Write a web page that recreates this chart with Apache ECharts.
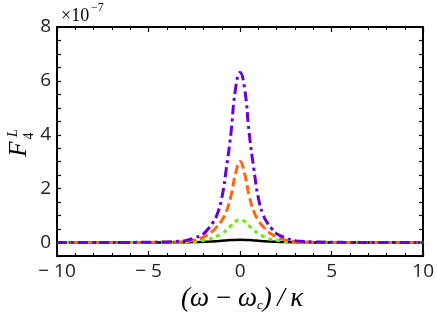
<!DOCTYPE html>
<html>
<head>
<meta charset="utf-8">
<script src="https://cdn.jsdelivr.net/npm/echarts@6/dist/echarts.min.js"></script>
<style>
  html, body { margin: 0; padding: 0; background: #fff; }
  #chart { width: 437px; height: 320px; }
</style>
</head>
<body>
<div id="chart"></div>
<script>
// detuning (omega - omega_c)/kappa
const xs = [-10, -8, -6, -5, -4, -3.5, -3, -2.5, -2, -1.75, -1.5, -1.25, -1, -0.75, -0.5, -0.25, 0,
  0.25, 0.5, 0.75, 1, 1.25, 1.5, 1.75, 2, 2.5, 3, 3.5, 4, 5, 6, 8, 10];

// F_4^L in units of 1e-7
const blackVals = [0, 0.001, 0.002, 0.003, 0.005, 0.007, 0.01, 0.015, 0.025, 0.032, 0.04, 0.052, 0.065, 0.078, 0.09, 0.098, 0.1,
  0.098, 0.09, 0.078, 0.065, 0.052, 0.04, 0.032, 0.025, 0.015, 0.01, 0.007, 0.005, 0.003, 0.002, 0.001, 0];
const greenVals = [0, 0.001, 0.003, 0.005, 0.01, 0.015, 0.02, 0.04, 0.08, 0.11, 0.16, 0.24, 0.33, 0.46, 0.62, 0.78, 0.85,
  0.78, 0.62, 0.46, 0.33, 0.24, 0.16, 0.11, 0.08, 0.04, 0.02, 0.015, 0.01, 0.005, 0.003, 0.001, 0];
const orangeVals = [0, 0.001, 0.003, 0.005, 0.01, 0.02, 0.04, 0.09, 0.2, 0.3, 0.42, 0.6, 0.82, 1.15, 1.72, 2.55, 3.01,
  2.55, 1.72, 1.15, 0.82, 0.6, 0.42, 0.3, 0.2, 0.09, 0.04, 0.02, 0.01, 0.005, 0.003, 0.001, 0];
const purpleVals = [0, 0.002, 0.005, 0.01, 0.02, 0.04, 0.07, 0.17, 0.33, 0.5, 0.72, 1.05, 1.65, 2.75, 4.05, 5.7, 6.31,
  5.7, 4.05, 2.75, 1.65, 1.05, 0.72, 0.5, 0.33, 0.17, 0.07, 0.04, 0.02, 0.01, 0.005, 0.002, 0];

const yLabels = [0, 2, 4, 6, 8];

const chart = echarts.init(document.getElementById('chart'));

const pairs = vals => xs.map((x, i) => [x, vals[i]]);
const minus = v => (v < 0 ? '\u2212 ' + Math.abs(v) : String(v));

const axisBase = {
  axisLine: { onZero: false, lineStyle: { color: '#000', width: 2 } },
  axisTick: { inside: true, length: 5, lineStyle: { color: '#000', width: 1.2 } },
  splitLine: { show: false }
};

function line(vals, color, type, width) {
  return {
    type: 'line',
    data: pairs(vals),
    smooth: true,
    showSymbol: false,
    lineStyle: { color: color, width: width, type: type, cap: 'butt' },
    z: 3
  };
}

chart.setOption({
  animation: false,
  grid: { left: 57, right: 10, top: 27, bottom: 64 },
  xAxis: [
    Object.assign({}, axisBase, {
      type: 'value', min: -10, max: 10, interval: 5,
      minorTick: { show: true, splitNumber: 5, length: 3, lineStyle: { color: '#000', width: 1 } },
      axisLabel: { formatter: minus, color: '#222', fontSize: 19, fontFamily: 'Open Sans', margin: 6 }
    }),
    Object.assign({}, axisBase, {
      type: 'value', min: -10, max: 10, interval: 5, position: 'top',
      minorTick: { show: true, splitNumber: 5, length: 3, lineStyle: { color: '#000', width: 1 } },
      axisLabel: { show: false }
    })
  ],
  yAxis: [
    Object.assign({}, axisBase, {
      type: 'value', min: -0.5, max: 8, interval: 0.5,
      axisTick: { inside: true, length: 4, lineStyle: { color: '#000', width: 1.2 } },
      axisLabel: {
        formatter: v => (yLabels.indexOf(v) >= 0 ? String(v) : ''),
        color: '#222', fontSize: 19, fontFamily: 'Open Sans', margin: 6
      }
    }),
    Object.assign({}, axisBase, {
      type: 'value', min: -0.5, max: 8, interval: 0.5, position: 'right',
      axisTick: { inside: true, length: 4, lineStyle: { color: '#000', width: 1.2 } },
      axisLabel: { show: false }
    })
  ],
  series: [
    line(blackVals, '#000', 'solid', 2.5),
    line(greenVals, '#66ee00', [4, 4], 3),
    line(orangeVals, '#ff6611', [9, 4], 3),
    line(purpleVals, '#6a00d8', [10, 4, 3, 4], 3)
  ],
  graphic: [
    {
      type: 'group', x: 19, y: 149, rotation: Math.PI / 2,
      children: [
        { type: 'text', x: 0, y: 0, style: { text: 'F', font: 'italic 25px "Liberation Serif"', fill: '#000', align: 'center', verticalAlign: 'middle' } },
        { type: 'text', x: 13, y: 10, style: { text: '4', font: '14px "Liberation Serif"', fill: '#000', align: 'center', verticalAlign: 'middle' } },
        { type: 'text', x: 16, y: -6, style: { text: 'L', font: 'italic 14px "Liberation Serif"', fill: '#000', align: 'center', verticalAlign: 'middle' } }
      ]
    },
    {
      type: 'text', x: 242, y: 298,
      style: {
        text: '{m|(\u03c9\u2009\u2212\u2009\u03c9}{s|c}{m|)\u2009/\u2009\u03ba}',
        align: 'center', verticalAlign: 'middle',
        rich: {
          m: { font: 'italic 27px "Liberation Serif"', fill: '#000', lineHeight: 28, verticalAlign: 'bottom' },
          s: { font: 'italic 13px "Liberation Serif"', fill: '#000', lineHeight: 14, verticalAlign: 'bottom' }
        }
      }
    },
    { type: 'text', x: 61, y: 16, style: { text: '\u00d710', font: '18px "Liberation Serif"', fill: '#000', verticalAlign: 'middle' } },
    { type: 'text', x: 91, y: 8, style: { text: '\u22127', font: '12px "Liberation Serif"', fill: '#000', verticalAlign: 'middle' } }
  ]
});
</script>
</body>
</html>
